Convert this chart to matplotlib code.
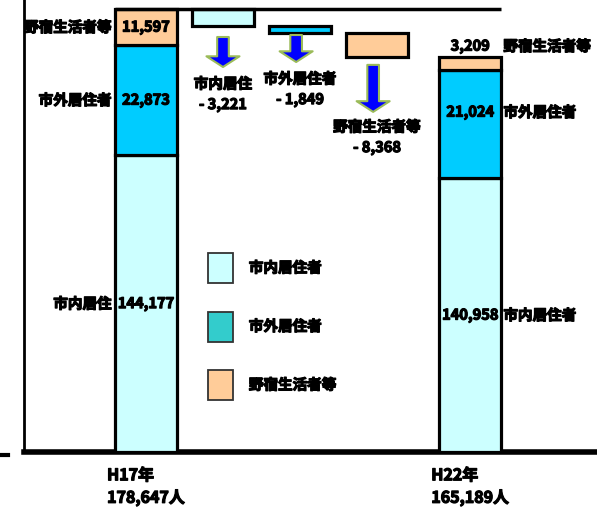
import numpy as np
import matplotlib.pyplot as plt
import matplotlib.patheffects as pe
from matplotlib.patches import Patch
from matplotlib.lines import Line2D
from matplotlib.transforms import offset_copy

plt.rcParams['font.family'] = ['Noto Sans CJK JP', 'DejaVu Sans']
plt.rcParams['font.weight'] = 'bold'

# H17 -> H22 の内訳
left_names = ['市内居住', '市外居住者', '野宿生活者等']
right_names = ['市内居住者', '市外居住者', '野宿生活者等']
step_names = ['市内居住', '市外居住者', '野宿生活者等']
h17 = [144177, 22873, 11597]
h22 = [140958, 21024, 3209]
changes = [-3221, -1849, -8368]
totals = [178647, 165189]
years = ['H17年', 'H22年']

colors = ['#CCFFFF', '#00CCFF', '#FFCC99']
legend_colors = ['#CCFFFF', '#33CCCC', '#FFCC99']
legend_labels = ['市内居住者', '市外居住者', '野宿生活者等']

# the original drawing is not to scale: value -> height above baseline (px)
scale_vals = [-1e6, 0, 140958, 144177, 161982, 165191, 167050, 173577, 175426, 178647, 181000, 1e6]
scale_px = [-2000, 0, 274, 297, 382, 395, 407, 419, 426, 443, 452, 2500]


def fwd(v):
    return np.interp(v, scale_vals, scale_px)


def inv(p):
    return np.interp(p, scale_px, scale_vals)


def mid(lo, hi):
    return inv((fwd(lo) + fwd(hi)) / 2)


W, H = 597, 508
fig = plt.figure(figsize=(W / 100, H / 100), dpi=100)
ax = fig.add_axes([24 / W, 56 / H, 573 / W, 452 / H])
ax.set_yscale('function', functions=(fwd, inv))
ax.set_ylim(0, 181000)
ax.set_xlim(-1.584, 5.857)

x17, x22, bw = 0.0, 4.21, 0.81
fs = 10.5
heavy = [pe.withStroke(linewidth=0.9, foreground='black')]
tk = dict(fontsize=fs, path_effects=heavy)
nk = dict(fontsize=fs, path_effects=heavy)

# H17 stacked bar
bottom = 0
for i, v in enumerate(h17):
    ax.bar(x17, v, bottom=bottom, width=bw, color=colors[i], edgecolor='black', lw=2.3, zorder=3)
    m = mid(bottom, bottom + v)
    ax.text(x17, m, f'{v:,}', ha='center', va='center', zorder=5, **nk)
    ax.annotate(left_names[i], xy=(x17 - bw / 2, m), xytext=(-3, 0), textcoords='offset pixels',
                ha='right', va='center', **tk)
    bottom += v

# H22 stacked bar
val_dy = [0, 12, 0]
bottom = 0
for i, v in enumerate(h22):
    ax.bar(x22, v, bottom=bottom, width=bw, color=colors[i], edgecolor='black', lw=2.3, zorder=3)
    m = mid(bottom, bottom + v)
    if i == 2:
        ax.annotate(f'{v:,}', xy=(x22, bottom + v), xytext=(0, 3), textcoords='offset pixels',
                    ha='center', va='bottom', **nk)
        ax.annotate(right_names[i], xy=(x22 + bw / 2, bottom + v), xytext=(2, 3),
                    textcoords='offset pixels', ha='left', va='bottom', **tk)
    else:
        ax.annotate(f'{v:,}', xy=(x22, m), xytext=(0, val_dy[i]), textcoords='offset pixels',
                    ha='center', va='center', zorder=5, **nk)
        ax.annotate(right_names[i], xy=(x22 + bw / 2, m), xytext=(2, val_dy[i]),
                    textcoords='offset pixels', ha='left', va='center', **tk)
    bottom += v

# connector at H17 total
ax.hlines(sum(h17), x17 - bw / 2, x22 + bw / 2, color='black', lw=2.5, zorder=4)

# decrease steps with arrows
arrow_off = [(11, 41), (2, 29), (8, 55)]
arrow_dx = [0.0, -0.05, -0.05]
text_y = [94, 89, 137]
running = sum(h17)
for i, c in enumerate(changes):
    xs = i + 1
    ax.bar(xs, c, bottom=running, width=bw, color=colors[i], edgecolor='black', lw=2.3, zorder=3)
    running += c
    t0, t1 = arrow_off[i]
    ax.annotate('', xy=(xs + arrow_dx[i], running),
                xycoords=offset_copy(ax.transData, fig=fig, y=-t1, units='dots'),
                xytext=(xs + arrow_dx[i], running),
                textcoords=offset_copy(ax.transData, fig=fig, y=-t0, units='dots'),
                arrowprops=dict(arrowstyle='simple,head_length=0.55,head_width=1.7,tail_width=0.6',
                                mutation_scale=14, fc='#0000FF', ec='#9BBB59', lw=1.5,
                                shrinkA=0, shrinkB=0))
    ax.annotate(f'{step_names[i]}\n- {abs(c):,}', xy=(xs, H - text_y[i]),
                xycoords=('data', 'figure pixels'), ha='center', va='center',
                multialignment='center', linespacing=1.35, **tk)

# axes styling
for s in ['top', 'right']:
    ax.spines[s].set_visible(False)
ax.spines['left'].set_linewidth(2)
ax.spines['bottom'].set_linewidth(4)
ax.set_yticks([])
ax.set_xticks([x17, x22], [f'{years[0]}\n{totals[0]:,}人', f'{years[1]}\n{totals[1]:,}人'],
              fontsize=11.5)
ax.tick_params(axis='x', length=0, pad=11)
for lbl in ax.get_xticklabels():
    lbl.set_multialignment('left')
    lbl.set_linespacing(1.5)
    lbl.set_path_effects(heavy)

fig.add_artist(Line2D([0, 8 / W], [53 / H, 53 / H], color='black', lw=3))

handles = [Patch(facecolor=c, edgecolor='#333333', lw=1.3) for c in legend_colors]
leg = ax.legend(handles, legend_labels, loc='upper left', bbox_to_anchor=(208 / W, 1 - 253 / H),
                bbox_transform=fig.transFigure, frameon=False, borderpad=0, borderaxespad=0,
                handlelength=1.7, handleheight=2.8, handletextpad=1.1, labelspacing=1.95,
                prop={'size': fs, 'weight': 'bold'})
for t in leg.get_texts():
    t.set_path_effects(heavy)

fig.savefig('out.png', dpi=100)
